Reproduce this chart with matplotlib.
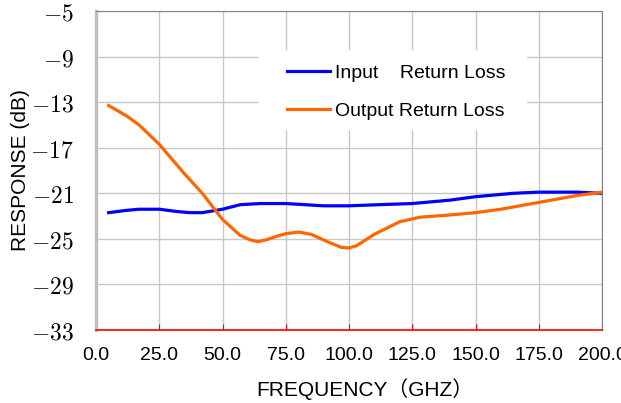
import matplotlib
matplotlib.use("Agg")
import matplotlib.pyplot as plt
from matplotlib.patches import Rectangle

# data
freq_in = [5, 12, 17, 25, 32, 37, 42, 50, 57, 65, 75, 90, 100, 112, 125, 140, 150, 165, 175, 190, 200]
input_rl = [-22.7, -22.5, -22.4, -22.4, -22.6, -22.7, -22.7, -22.4, -22.0, -21.9, -21.9, -22.1, -22.1, -22.0, -21.9, -21.6, -21.3, -21.0, -20.9, -20.9, -21.0]

freq_out = [5, 12, 17, 25, 35, 42, 50, 57, 61, 64, 67, 71, 75, 80, 85, 92, 97, 100, 103, 110, 120, 128, 140, 150, 160, 175, 190, 200]
output_rl = [-13.3, -14.2, -15.0, -16.7, -19.3, -21.0, -23.3, -24.7, -25.1, -25.25, -25.1, -24.8, -24.55, -24.4, -24.6, -25.3, -25.75, -25.8, -25.6, -24.6, -23.5, -23.1, -22.9, -22.7, -22.4, -21.8, -21.2, -20.9]

x_ticks = [0, 25, 50, 75, 100, 125, 150, 175, 200]
y_ticks = [-33, -29, -25, -21, -17, -13, -9, -5]

plt.rcParams["mathtext.fontset"] = "cm"
sans = ["Liberation Sans", "Noto Sans CJK SC"]

fig = plt.figure(figsize=(6.21, 4.03), dpi=100)
ax = fig.add_axes([96 / 621, 1 - 330 / 403, 506 / 621, 319 / 403])

ax.plot(freq_in, input_rl, color="#0000ff", lw=2.3, label="Input    Return Loss", zorder=3)
ax.plot(freq_out, output_rl, color="#ff6600", lw=2.3, label="Output Return Loss", zorder=3)

ax.set_xlim(0, 200)
ax.set_ylim(-33, -5)
ax.set_xticks(x_ticks)
ax.set_xticklabels([f"{v:.1f}" for v in x_ticks], family=sans, fontsize=14)
ax.set_yticks(y_ticks)
ax.set_yticklabels([f"$-{abs(v)}$" for v in y_ticks], fontsize=17)
ax.grid(True, color="#c8c8c8", lw=1.0)
ax.set_axisbelow(True)

ax.tick_params(axis="x", direction="in", colors="#ff0000", length=4, pad=12, labelcolor="black")
ax.tick_params(axis="y", length=0, pad=16)

for side in ("top", "right"):
    ax.spines[side].set_color("#808080")
ax.spines["left"].set_color("#c0c0c0")
ax.spines["left"].set_linewidth(2.5)
ax.spines["bottom"].set_color("#ff0000")
ax.spines["bottom"].set_linewidth(1.2)

ax.set_xlabel("FREQUENCY（GHZ）", family=sans, fontsize=15)
ax.xaxis.set_label_coords(0.532, -0.15)
ax.set_ylabel("RESPONSE (dB)", family=sans, fontsize=15, labelpad=0)

# white block behind the legend that hides the grid
ax.add_patch(Rectangle((259 / 621, 1 - 130 / 403), 268 / 621, 80 / 403,
                       transform=fig.transFigure, facecolor="white",
                       edgecolor="none", zorder=1.5))

ax.legend(loc="upper left", bbox_to_anchor=(287 / 621, 1 - 64 / 403),
          bbox_transform=fig.transFigure, borderaxespad=0, borderpad=0,
          prop={"family": sans, "size": 14}, frameon=False,
          handlelength=2.2, handletextpad=0.25, labelspacing=1.08)

fig.savefig("out.png", dpi=100)
